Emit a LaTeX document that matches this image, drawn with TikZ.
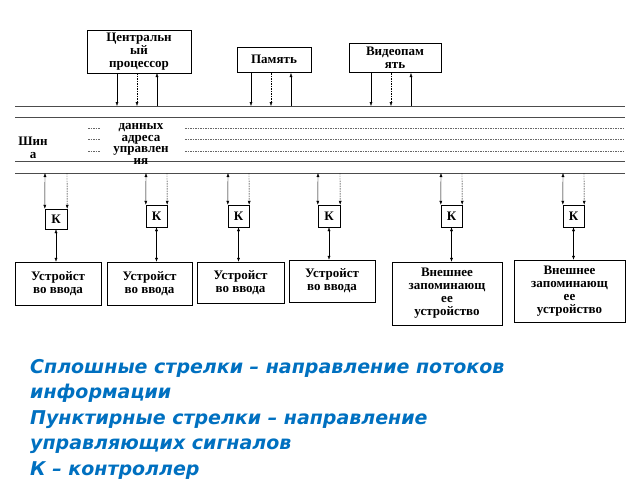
\documentclass[tikz,border=0pt]{standalone}
\usepackage{fontspec}
\setmainfont{Liberation Serif}
\newfontfamily\legendfont{DejaVu Sans}
\usetikzlibrary{arrows.meta}
\definecolor{legendblue}{RGB}{0,112,192}
\tikzset{
  blk/.style={draw=black, fill=white, font=\bfseries\fontsize{13}{13}\selectfont, align=center, inner sep=0pt},
  bus/.style={draw=black!70, line width=0.8pt},
  sig/.style={dashed, dash pattern=on 1.5pt off 1pt},
  tip/.style={-{Latex[length=4pt,width=3pt]}},
  dtip/.style={{Latex[length=4pt,width=3pt]}-{Latex[length=4pt,width=3pt]}}
}
\begin{document}
\begin{tikzpicture}[x=1pt,y=-1pt]
\useasboundingbox (0,0) rectangle (640,480);

            % upper units
            \node[blk, minimum width=104, minimum height=43] (CPU) at (139,51.5) {Центральн\\ый\\процессор};
            \node[blk, minimum width=74, minimum height=25] (MEM) at (274,59.5) {Память};
            \node[blk, minimum width=92, minimum height=29] (VID) at (395,57.5) {Видеопам\\ять};

            % bus
            \coordinate (BL) at (15,106); \coordinate (BR) at (625,106);
            \coordinate (CL) at (15,173); \coordinate (CR) at (625,173);
            \draw[bus] (BL) -- (BR);
            \draw[bus] (15,117) -- (625,117);
            \draw[bus] (15,161) -- (625,161);
            \draw[bus] (CL) -- (CR);
            \foreach \y in {128,139,151}{
              \draw[black!60, sig] (88,\y) -- (100,\y);
              \draw[black!60, sig] (185,\y) -- (625,\y);
            }
            \node[blk, draw=none, fill=none] (BUSN) at (33,148) {Шин\\а};
            \node[blk, draw=none, fill=none, font=\bfseries\fontsize{13}{11.5}\selectfont] (LINES) at (141,144) {данных\\адреса\\управлен\\ия};

            % upper connections
            \foreach \n/\a/\b/\c in {CPU/117/137/157, MEM/251/271/291, VID/371/391/411}{
              \draw[tip] (\a,73) -- (\a,106);
              \draw[tip, sig] (\b,73) -- (\b,106);
              \draw[tip] (\c,106) -- (\c,73);
            }

            % controllers and devices
            \foreach \i/\l/\r/\t/\b in {1/45/67/209/229, 2/146/167/205/227, 3/228/249/205/227, 4/318/340/205/227, 5/441/462/205/227, 6/563/584/205/227}{
              \node[blk, minimum width=\r-\l, minimum height=\b-\t] (K\i) at ({(\l+\r)/2},{(\t+\b)/2}) {К};
              \draw[dtip] (K\i.north west) -- (\l,173);
              \draw[tip, sig] (\r,173) -- (K\i.north east);
            }
            \node[blk, minimum width=86, minimum height=43] (D1) at (58,283.5) {Устройст\\во ввода};
            \node[blk, minimum width=85, minimum height=43] (D2) at (149.5,283.5) {Устройст\\во ввода};
            \node[blk, minimum width=87, minimum height=41] (D3) at (240.5,282.5) {Устройст\\во ввода};
            \node[blk, minimum width=86, minimum height=42] (D4) at (332,281) {Устройст\\во ввода};
            \node[blk, minimum width=110, minimum height=63] (D5) at (447,293.5) {Внешнее\\запоминающ\\ее\\устройство};
            \node[blk, minimum width=111, minimum height=62] (D6) at (569.5,291) {Внешнее\\запоминающ\\ее\\устройство};
            \foreach \i in {1,...,6}{
              \draw[dtip] (K\i.south) -- (K\i.south |- D\i.north);
            }

            % legend
            \node[anchor=north west, align=left, text=legendblue, inner sep=0pt,
                  font=\legendfont\bfseries\itshape\fontsize{19}{25.5}\selectfont] (LEG) at (30,359)
              {Сплошные стрелки – направление потоков\\информации\\Пунктирные стрелки – направление\\управляющих сигналов\\К – контроллер};
\end{tikzpicture}
\end{document}
